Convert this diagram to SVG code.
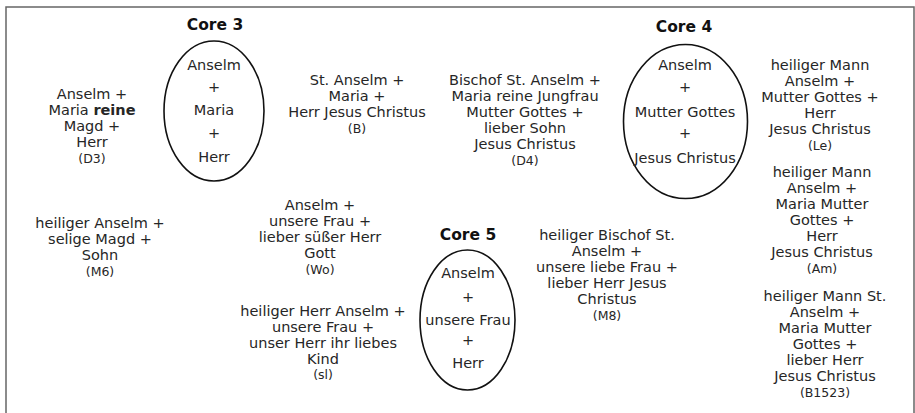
<svg xmlns="http://www.w3.org/2000/svg" width="915" height="413" viewBox="0 0 915 413">
<style>
text{font-family:"DejaVu Sans","Liberation Sans",sans-serif;font-size:14.5px;fill:#262626;text-anchor:middle}
.t{font-weight:bold;font-size:15.5px;fill:#111}
.s{font-size:12.5px}
.b{font-weight:bold}
ellipse{fill:none;stroke:#111;stroke-width:1.6}
.frame{fill:none;stroke:#666;stroke-width:1.5}
</style>
<rect width="915" height="413" fill="#fff"/>
<path class="frame" d="M6,415 V7 H914 V415"/>
<g id="core3">
<text class="t" x="215" y="30">Core 3</text>
<ellipse cx="214" cy="111" rx="50" ry="70"/>
<text x="214" y="70">Anselm</text>
<text x="214" y="92">+</text>
<text x="214" y="115">Maria</text>
<text x="214" y="138">+</text>
<text x="214" y="162">Herr</text>
</g>
<g id="core4">
<text class="t" x="684" y="32">Core 4</text>
<ellipse cx="685.5" cy="121.5" rx="62" ry="77"/>
<text x="685" y="70">Anselm</text>
<text x="685" y="92">+</text>
<text x="685" y="117">Mutter Gottes</text>
<text x="685" y="138">+</text>
<text x="685" y="163">Jesus Christus</text>
</g>
<g id="core5">
<text class="t" x="468" y="240">Core 5</text>
<ellipse cx="467.5" cy="320" rx="47.5" ry="70"/>
<text x="468" y="278">Anselm</text>
<text x="468" y="302">+</text>
<text x="468" y="325">unsere Frau</text>
<text x="468" y="345">+</text>
<text x="468" y="368">Herr</text>
</g>
<g id="D3">
<text x="92" y="99">Anselm +</text>
<text x="92" y="115">Maria <tspan class="b">reine</tspan></text>
<text x="92" y="131">Magd +</text>
<text x="92" y="147">Herr</text>
<text class="s" x="92" y="163">(D3)</text>
</g>
<g id="B">
<text x="357" y="85">St. Anselm +</text>
<text x="357" y="101">Maria +</text>
<text x="357" y="117">Herr Jesus Christus</text>
<text class="s" x="357" y="133">(B)</text>
</g>
<g id="D4">
<text x="525" y="85">Bischof St. Anselm +</text>
<text x="525" y="101">Maria reine Jungfrau</text>
<text x="525" y="117">Mutter Gottes +</text>
<text x="525" y="133">lieber Sohn</text>
<text x="525" y="149">Jesus Christus</text>
<text class="s" x="525" y="165">(D4)</text>
</g>
<g id="Le">
<text x="820" y="70">heiliger Mann</text>
<text x="820" y="86">Anselm +</text>
<text x="820" y="102">Mutter Gottes +</text>
<text x="820" y="118">Herr</text>
<text x="820" y="134">Jesus Christus</text>
<text class="s" x="820" y="150">(Le)</text>
</g>
<g id="Am">
<text x="822" y="177">heiliger Mann</text>
<text x="822" y="193">Anselm +</text>
<text x="822" y="209">Maria Mutter</text>
<text x="822" y="225">Gottes +</text>
<text x="822" y="241">Herr</text>
<text x="822" y="257">Jesus Christus</text>
<text class="s" x="822" y="273">(Am)</text>
</g>
<g id="B1523">
<text x="825" y="301">heiliger Mann St.</text>
<text x="825" y="317">Anselm +</text>
<text x="825" y="333">Maria Mutter</text>
<text x="825" y="349">Gottes +</text>
<text x="825" y="365">lieber Herr</text>
<text x="825" y="381">Jesus Christus</text>
<text class="s" x="825" y="397">(B1523)</text>
</g>
<g id="M8">
<text x="607" y="240">heiliger Bischof St.</text>
<text x="607" y="256">Anselm +</text>
<text x="607" y="272">unsere liebe Frau +</text>
<text x="607" y="288">lieber Herr Jesus</text>
<text x="607" y="304">Christus</text>
<text class="s" x="607" y="320">(M8)</text>
</g>
<g id="M6">
<text x="100" y="228">heiliger Anselm +</text>
<text x="100" y="244">selige Magd +</text>
<text x="100" y="260">Sohn</text>
<text class="s" x="100" y="276">(M6)</text>
</g>
<g id="Wo">
<text x="320" y="210">Anselm +</text>
<text x="320" y="226">unsere Frau +</text>
<text x="320" y="242">lieber süßer Herr</text>
<text x="320" y="258">Gott</text>
<text class="s" x="320" y="274">(Wo)</text>
</g>
<g id="sl">
<text x="323" y="316">heiliger Herr Anselm +</text>
<text x="323" y="332">unsere Frau +</text>
<text x="323" y="348">unser Herr ihr liebes</text>
<text x="323" y="364">Kind</text>
<text class="s" x="323" y="379">(sl)</text>
</g>
<g id="connectors"/>
</svg>
